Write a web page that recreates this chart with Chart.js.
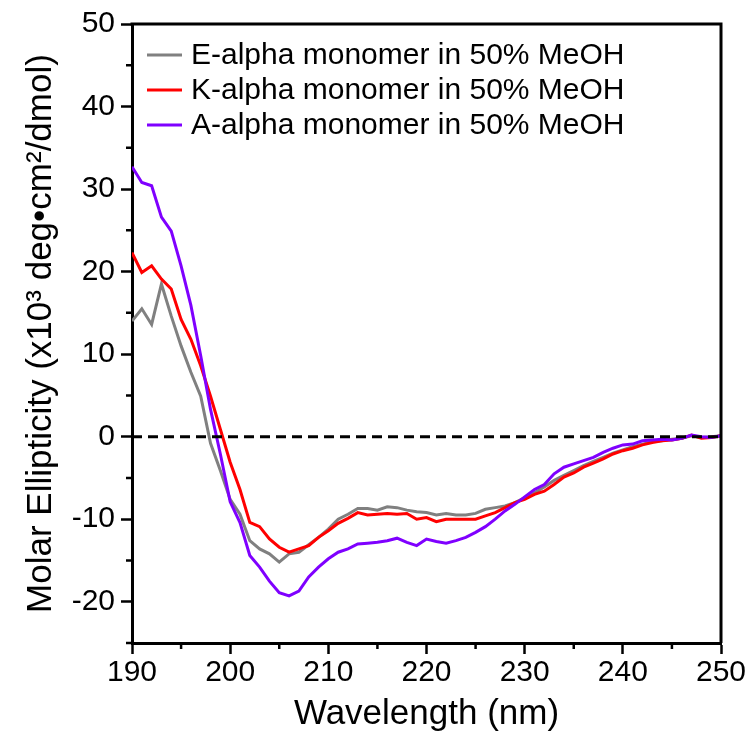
<!DOCTYPE html>
<html>
<head>
<meta charset="utf-8">
<script src="https://cdn.jsdelivr.net/npm/chart.js@4/dist/chart.umd.min.js"></script>
<style>
  body { margin: 0; background: #fff; }
  #cd { display: block; }
</style>
</head>
<body>
<canvas id="cd" width="751" height="753"></canvas>
<script>
// wavelengths (nm)
const wavelength = [190,191,192,193,194,195,196,197,198,199,200,201,202,203,204,205,206,207,208,209,
  210,211,212,213,214,215,216,217,218,219,220,221,222,223,224,225,226,227,228,229,
  230,231,232,233,234,235,236,237,238,239,240,241,242,243,244,245,246,247,248,249,250];

const seriesNames = ["E-alpha monomer in 50% MeOH", "K-alpha monomer in 50% MeOH", "A-alpha monomer in 50% MeOH"];

const eAlpha = [14.0,15.5,13.6,18.5,14.6,11.0,7.8,4.9,-0.8,-4.1,-7.6,-9.4,-12.6,-13.6,-14.2,-15.2,-14.2,-14.0,-13.1,-12.2,
  -11.2,-10.0,-9.4,-8.7,-8.7,-8.9,-8.5,-8.6,-8.9,-9.1,-9.2,-9.5,-9.3,-9.5,-9.5,-9.3,-8.8,-8.6,-8.4,-8.0,
  -7.4,-6.8,-6.1,-5.3,-4.7,-4.1,-3.5,-3.0,-2.5,-2.0,-1.6,-1.2,-0.9,-0.6,-0.5,-0.3,-0.2,0.1,-0.1,0.0,0.1];

const kAlpha = [22.3,19.9,20.7,19.1,17.9,14.2,11.8,8.6,4.9,0.9,-3.1,-6.4,-10.4,-10.9,-12.4,-13.4,-14.0,-13.6,-13.2,-12.2,
  -11.4,-10.5,-9.9,-9.2,-9.5,-9.4,-9.3,-9.4,-9.3,-10.0,-9.8,-10.3,-10.0,-10.0,-10.0,-10.0,-9.6,-9.2,-8.6,-8.0,
  -7.6,-7.0,-6.6,-5.8,-4.9,-4.4,-3.7,-3.2,-2.7,-2.1,-1.7,-1.4,-1.0,-0.7,-0.5,-0.4,-0.2,0.2,-0.2,-0.1,0.1];

const aAlpha = [32.7,30.8,30.4,26.6,24.9,20.7,15.9,9.8,3.3,-2.1,-7.9,-10.4,-14.4,-15.8,-17.5,-18.9,-19.3,-18.7,-17.0,-15.8,
  -14.8,-14.0,-13.6,-13.0,-12.9,-12.8,-12.6,-12.3,-12.8,-13.2,-12.4,-12.7,-12.9,-12.6,-12.2,-11.6,-10.9,-10.0,-9.0,-8.2,
  -7.3,-6.4,-5.8,-4.5,-3.7,-3.3,-2.9,-2.5,-1.9,-1.4,-1.0,-0.9,-0.5,-0.4,-0.3,-0.4,-0.2,0.2,0.0,-0.1,0.1];

const zeroLine = [0, 0];
const zeroLineX = [190, 250];

const colors = ["#808080", "#ff0000", "#7f00ff"];
const FONT = "'Liberation Sans', Arial, sans-serif";

function pts(xs, ys) {
  return xs.map((x, i) => ({ x: x, y: ys[i] }));
}

// minor ticks + top/right frame
const frame = {
  id: "frame",
  afterDraw(chart) {
    const ctx = chart.ctx;
    const a = chart.chartArea;
    const xs = chart.scales.x, ys = chart.scales.y;
    ctx.save();
    ctx.strokeStyle = "#000";
    ctx.lineWidth = 3;
    ctx.beginPath();
    ctx.moveTo(a.left - 1.5, a.top);
    ctx.lineTo(a.right, a.top);
    ctx.lineTo(a.right, a.bottom);
    ctx.stroke();
    ctx.lineWidth = 2.5;
    ctx.beginPath();
    for (let v = -25; v <= 45; v += 10) {
      const y = ys.getPixelForValue(v);
      ctx.moveTo(a.left - 6, y);
      ctx.lineTo(a.left, y);
    }
    for (let v = 195; v <= 245; v += 10) {
      const x = xs.getPixelForValue(v);
      ctx.moveTo(x, a.bottom);
      ctx.lineTo(x, a.bottom + 6);
    }
    ctx.stroke();
    ctx.restore();
  }
};

// legend inside the plot
const inLegend = {
  id: "inLegend",
  afterDatasetsDraw(chart) {
    const ctx = chart.ctx;
    ctx.save();
    ctx.font = "30px " + FONT;
    ctx.textBaseline = "middle";
    ctx.fillStyle = "#000";
    seriesNames.forEach((name, i) => {
      const y = 55 + i * 35;
      ctx.strokeStyle = colors[i];
      ctx.lineWidth = 3;
      ctx.beginPath();
      ctx.moveTo(147, y);
      ctx.lineTo(182, y);
      ctx.stroke();
      ctx.fillText(name, 191, y + 1);
    });
    ctx.restore();
  }
};

new Chart("cd", {
  type: "line",
  data: {
    datasets: [
      { label: seriesNames[0], data: pts(wavelength, eAlpha), borderColor: colors[0], borderWidth: 3, pointRadius: 0, order: 3 },
      { label: seriesNames[1], data: pts(wavelength, kAlpha), borderColor: colors[1], borderWidth: 3, pointRadius: 0, order: 2 },
      { label: seriesNames[2], data: pts(wavelength, aAlpha), borderColor: colors[2], borderWidth: 3, pointRadius: 0, order: 1 },
      { label: "zero", data: pts(zeroLineX, zeroLine), borderColor: "#000", borderWidth: 3, borderDash: [10, 6], pointRadius: 0, order: 0 }
    ]
  },
  options: {
    responsive: false,
    animation: false,
    layout: { padding: { top: 24, right: 30, left: 0, bottom: 0 } },
    plugins: { legend: { display: false }, tooltip: { enabled: false } },
    scales: {
      x: {
        type: "linear",
        min: 190, max: 250,
        afterFit(s) { s.height = 110; },
        ticks: { stepSize: 10, color: "#000", font: { size: 30, family: FONT }, padding: 1, maxRotation: 0 },
        grid: { drawOnChartArea: false, tickLength: 11, tickWidth: 2.5, tickColor: "#000" },
        border: { color: "#000", width: 3 },
        title: { display: true, text: "Wavelength (nm)", color: "#000", font: { size: 35, family: FONT }, padding: { top: 0, bottom: 18 } }
      },
      y: {
        min: -25, max: 50,
        afterFit(s) { s.width = 132; },
        ticks: { stepSize: 10, includeBounds: false, color: "#000", font: { size: 30, family: FONT }, padding: 6 },
        grid: { drawOnChartArea: false, tickLength: 11, tickWidth: 2.5, tickColor: "#000" },
        border: { color: "#000", width: 3 },
        title: { display: true, text: "Molar Ellipticity (x10\u00b3 deg\u2022cm\u00b2/dmol)", color: "#000", font: { size: 35, family: FONT }, padding: { top: 20, bottom: 0 } }
      }
    }
  },
  plugins: [frame, inLegend]
});
</script>
</body>
</html>
